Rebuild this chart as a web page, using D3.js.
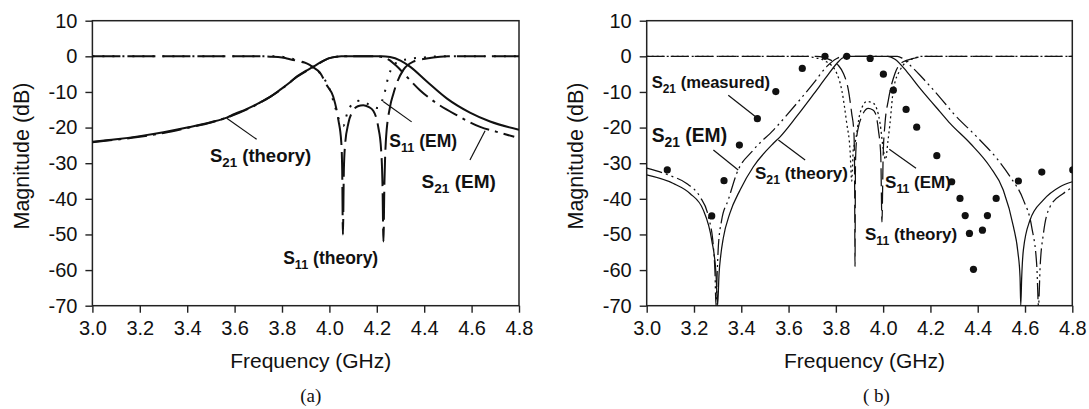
<!DOCTYPE html>
<html>
<head>
<meta charset="utf-8">
<script src="https://cdn.jsdelivr.net/npm/d3@7"></script>
<style>
  body { margin: 0; background: #fff; }
  svg { display: block; }
  text { font-family: "Liberation Sans", Arial, Helvetica, sans-serif; fill: #111; }
</style>
</head>
<body>
<svg id="viz"></svg>
<script>
var width = 1089;
var height = 409;

// axis ticks
var freqTicks = [3.0, 3.2, 3.4, 3.6, 3.8, 4.0, 4.2, 4.4, 4.6, 4.8];
var magTicks = [10, 0, -10, -20, -30, -40, -50, -60, -70];

// panel (a) curves, [GHz, dB]
var s21TheoryA = [[3.0,-24.0],[3.1,-23.3],[3.2,-22.4],[3.3,-21.3],[3.4,-20.0],[3.5,-18.5],[3.567,-17.2],
  [3.6,-16.2],[3.65,-14.8],[3.7,-13.2],[3.75,-11.4],[3.79,-9.5],[3.83,-7.5],[3.862,-5.7],[3.9,-4.1],
  [3.932,-2.9],[3.96,-1.8],[4.0,-0.5],[4.03,-0.1],[4.05,0],[4.22,0],[4.256,-0.2],[4.3,-1.2],[4.34,-2.9],
  [4.41,-7.0],[4.495,-11.8],[4.593,-15.8],[4.678,-18.3],[4.8,-20.6]];
var s21EmA = [[3.0,-24.1],[3.1,-23.4],[3.2,-22.6],[3.3,-21.5],[3.4,-20.1],[3.5,-18.6],[3.567,-17.2],
  [3.7,-13.3],[3.79,-9.6],[3.862,-5.8],[3.932,-3.0],[4.0,-0.5],[4.03,-0.1],[4.05,0],[4.2,0],[4.225,-0.2],
  [4.25,-0.9],[4.28,-2.5],[4.326,-5.7],[4.382,-9.5],[4.453,-13.2],[4.537,-16.5],[4.636,-19.8],
  [4.706,-21.2],[4.78,-22.6]];
var s11TheoryA = [[3.0,0],[3.7,0],[3.75,-0.1],[3.8,-0.3],[3.82,-0.6],[3.86,-1.2],[3.904,-2.0],[3.93,-3.0],
  [3.96,-4.6],[3.989,-8.1],[4.016,-11.3],[4.038,-17.9],[4.05,-24],[4.054,-32],[4.057,-50],[4.061,-32],
  [4.066,-25],[4.08,-18.8],[4.1,-15.3],[4.12,-14.0],[4.143,-13.7],[4.165,-14.2],[4.185,-15.3],
  [4.206,-19.8],[4.218,-26],[4.224,-36],[4.228,-52],[4.232,-36],[4.238,-24],[4.256,-14.1],[4.27,-10.5],
  [4.284,-7.6],[4.312,-3.8],[4.354,-1.5],[4.41,-0.6],[4.467,-0.1],[4.5,0],[4.8,0]];
var s11EmA = [[3.0,0],[3.78,0],[3.85,-0.8],[3.9,-2.0],[3.95,-4.0],[3.98,-6.5],[4.0,-9.0],[4.023,-14],
  [4.045,-18.5],[4.059,-19.5],[4.075,-16],[4.095,-13.5],[4.122,-12.5],[4.15,-13],[4.18,-14],
  [4.205,-14.5],[4.215,-13.5],[4.228,-11.5],[4.249,-5.7],[4.27,-2.5],[4.3,-1.3],[4.34,-0.7],
  [4.4,-0.3],[4.47,0],[4.8,0]];

// panel (b) curves, [GHz, dB]
var s21TheoryB = [[3.0,-33.3],[3.113,-35.7],[3.183,-38.5],[3.239,-43.1],[3.275,-51.6],[3.293,-60.9],
  [3.3,-70],[3.306,-61],[3.313,-56],[3.324,-51],[3.352,-44],[3.395,-37.5],[3.451,-31],[3.536,-24.4],
  [3.564,-22.6],[3.635,-16.8],[3.705,-10.7],[3.76,-5.8],[3.804,-2.0],[3.83,-0.4],[3.86,0],[4.02,0],
  [4.05,-0.8],[4.1,-4.3],[4.156,-9.0],[4.198,-12.3],[4.24,-15.5],[4.283,-18.8],[4.368,-24.4],
  [4.452,-31],[4.508,-37.5],[4.551,-47.8],[4.57,-55],[4.579,-62],[4.582,-70],[4.586,-62],[4.593,-54.4],
  [4.621,-46],[4.678,-40.3],[4.748,-36.6],[4.8,-35.2]];
var s21EmB = [[3.0,-31.4],[3.1,-33.5],[3.169,-35.7],[3.225,-39.4],[3.261,-45],[3.282,-53.4],
  [3.289,-61],[3.293,-70],[3.298,-61],[3.303,-53.4],[3.317,-46],[3.345,-40.3],[3.381,-32.8],
  [3.451,-26.3],[3.536,-20.7],[3.635,-13.2],[3.705,-7.6],[3.761,-2.9],[3.804,-0.6],[3.83,0],[4.06,0],
  [4.08,-0.5],[4.114,-2.5],[4.156,-5.3],[4.2,-8.5],[4.24,-11.5],[4.297,-16],[4.396,-22.6],
  [4.481,-28.7],[4.537,-33.8],[4.593,-40.3],[4.628,-47.8],[4.65,-59],[4.657,-70],[4.664,-59],
  [4.678,-49.7],[4.706,-42.2],[4.762,-38.5],[4.8,-36.8]];
var s11TheoryB = [[3.0,0],[3.72,0],[3.776,-1.0],[3.81,-2.5],[3.832,-4.8],[3.853,-9.5],[3.867,-16],
  [3.876,-21],[3.879,-30],[3.881,-59],[3.883,-30],[3.888,-23],[3.895,-20],[3.909,-17],[3.937,-14.6],
  [3.955,-15],[3.967,-16],[3.98,-20.7],[3.99,-28],[3.995,-46.5],[4.0,-28],[4.008,-18.8],[4.022,-12.3],
  [4.05,-4.8],[4.085,-1.5],[4.128,-0.6],[4.18,0],[4.8,0]];
var s11EmB = [[3.0,0],[3.68,0],[3.705,-0.3],[3.76,-1.5],[3.804,-4.8],[3.825,-9.5],[3.846,-18.8],
  [3.86,-26.3],[3.867,-35],[3.874,-26],[3.881,-24.4],[3.902,-16],[3.931,-12.7],[3.959,-13.2],
  [3.987,-18.8],[4.001,-26.3],[4.01,-29],[4.02,-24],[4.029,-18.8],[4.043,-9.5],[4.072,-3.8],
  [4.114,-1.0],[4.17,0],[4.8,0]];
var s21MeasuredB = [[3.087,-31.9],[3.275,-44.8],[3.327,-34.9],[3.392,-24.9],[3.468,-17.5],[3.546,-9.9],
  [3.658,-3.4],[3.754,0],[3.846,0],[3.945,-0.6],[4.001,-5.0],[4.043,-9.5],[4.097,-14.9],[4.142,-19.9],
  [4.227,-27.9],[4.29,-35.2],[4.325,-39.9],[4.347,-44.7],[4.365,-49.7],[4.382,-59.8],[4.42,-48.8],
  [4.441,-44.7],[4.478,-39.9],[4.572,-35.0],[4.671,-32.5],[4.802,-31.9]];

// annotation texts
var labelsA = ["S21 (theory)", "S11 (theory)", "S11 (EM)", "S21 (EM)"];
var labelsB = ["S21 (measured)", "S21 (EM)", "S21 (theory)", "S11 (EM)", "S11 (theory)"];

// ---------------- layout ----------------
var placeA = [
  {f: 3.496, db: -29.6, size: 18.5, lead: [[3.567, -17.4], [3.693, -23.3]]},
  {f: 3.805, db: -58.3, size: 17.5},
  {f: 4.253, db: -25.4, size: 17.5, lead: [[4.347, -18.4], [4.227, -12.7]]},
  {f: 4.389, db: -36.9, size: 19, lead: [[4.593, -29.1], [4.657, -20.9]]}
];
var placeB = [
  {f: 3.021, db: -9.0, size: 16.6, lead: [[3.345, -10.9], [3.458, -16.8]]},
  {f: 3.021, db: -24.0, size: 19.3, lead: [[3.282, -26.3], [3.387, -31.9]]},
  {f: 3.458, db: -34.4, size: 17, lead: [[3.557, -23.5], [3.67, -29.1]]},
  {f: 4.008, db: -37.1, size: 17, lead: [[4.026, -26.1], [4.139, -31.4]]},
  {f: 3.923, db: -51.6, size: 17}
];

var panels = [
  {id: "a", left: 92.4, right: 519, tag: "(a)", width: 2,
   curves: [
     {data: s11EmA, dash: "2,8"},
     {data: s11TheoryA, dash: "28,7"},
     {data: s21EmA, dash: "20,6,3,6"},
     {data: s21TheoryA, dash: null}
   ],
   labels: labelsA, place: placeA},
  {id: "b", left: 646.7, right: 1072.3, tag: "( b)", width: 1.25,
   curves: [
     {data: s11EmB, dash: "2,3"},
     {data: s11TheoryB, dash: "18,6"},
     {data: s21EmB, dash: "16,4,2,4,2,4"},
     {data: s21TheoryB, dash: null}
   ],
   labels: labelsB, place: placeB, dots: s21MeasuredB}
];

var plotTop = 20.7, plotBottom = 305.7;

var svg = d3.select("#viz")
    .attr("width", width)
    .attr("height", height);

panels.forEach(function (p) {
    var x = d3.scaleLinear().domain([3.0, 4.8]).range([p.left, p.right]);
    var y = d3.scaleLinear().domain([-70, 10]).range([plotBottom, plotTop]);
    var g = svg.append("g");

    g.append("clipPath").attr("id", "clip-" + p.id)
      .append("rect")
        .attr("x", p.left).attr("y", plotTop)
        .attr("width", p.right - p.left).attr("height", plotBottom - plotTop);

    //axes
    var xAxis = d3.axisBottom(x).tickValues(freqTicks)
        .tickFormat(d3.format(".1f")).tickSize(7).tickSizeOuter(0).tickPadding(8);
    var yAxis = d3.axisLeft(y).tickValues(magTicks)
        .tickFormat(function (d) { return String(d); }).tickSize(7).tickSizeOuter(0).tickPadding(8);

    g.append("g").attr("transform", "translate(0," + plotBottom + ")").call(xAxis);
    g.append("g").attr("transform", "translate(" + p.left + ",0)").call(yAxis);
    g.selectAll(".domain").remove();
    g.selectAll(".tick line").attr("stroke", "#222").attr("stroke-width", 1.4);
    g.selectAll(".tick text")
        .style("font-family", "'Liberation Sans', Arial, sans-serif")
        .style("font-size", "20px")
        .attr("fill", "#111");

    g.append("rect")
        .attr("x", p.left).attr("y", plotTop)
        .attr("width", p.right - p.left).attr("height", plotBottom - plotTop)
        .attr("fill", "none").attr("stroke", "#222").attr("stroke-width", 1.5);

    //curves
    var line = d3.line()
        .x(function (d) { return x(d[0]); })
        .y(function (d) { return y(d[1]); })
        .curve(d3.curveMonotoneX);

    var plot = g.append("g").attr("clip-path", "url(#clip-" + p.id + ")");
    plot.selectAll("path.curve")
        .data(p.curves)
      .enter().append("path")
        .attr("class", "curve")
        .attr("d", function (d) { return line(d.data); })
        .attr("fill", "none")
        .attr("stroke", "#111")
        .attr("stroke-width", p.width)
        .attr("stroke-dasharray", function (d) { return d.dash; });

    if (p.dots) {
        plot.selectAll("circle")
            .data(p.dots)
          .enter().append("circle")
            .attr("cx", function (d) { return x(d[0]); })
            .attr("cy", function (d) { return y(d[1]); })
            .attr("r", 3.6)
            .attr("fill", "#111");
    }

    //labels
    p.labels.forEach(function (txt, i) {
        var pl = p.place[i];
        var m = txt.match(/^S(\d+) (.*)$/);
        if (pl.lead) {
            g.append("line")
                .attr("x1", x(pl.lead[0][0])).attr("y1", y(pl.lead[0][1]))
                .attr("x2", x(pl.lead[1][0])).attr("y2", y(pl.lead[1][1]))
                .attr("stroke", "#111").attr("stroke-width", 1.2);
        }
        var t = g.append("text")
            .attr("x", x(pl.f)).attr("y", y(pl.db))
            .attr("font-weight", "bold")
            .style("font-size", pl.size + "px");
        t.append("tspan").text("S");
        t.append("tspan").style("font-size", (pl.size * 0.72) + "px")
            .attr("dy", pl.size * 0.28).text(m[1]);
        t.append("tspan").attr("dy", -pl.size * 0.28).text(" " + m[2]);
    });

    //titles
    var cx = (p.left + p.right) / 2;
    g.append("text")
        .attr("x", cx + 5).attr("y", 368)
        .attr("text-anchor", "middle")
        .style("font-size", "21px")
        .text("Frequency (GHz)");
    g.append("text")
        .attr("transform", "translate(" + (p.left - 63.5) + "," + 156 + ") rotate(-90)")
        .attr("text-anchor", "middle")
        .style("font-size", "21.5px")
        .text("Magnitude (dB)");
    g.append("text")
        .attr("x", cx + 5 + (p.id === "b" ? 12 : 0)).attr("y", 402)
        .attr("text-anchor", "middle")
        .style("font-family", "'Liberation Serif', 'Times New Roman', serif")
        .style("font-size", "19px")
        .text(p.tag);
});
</script>
</body>
</html>
